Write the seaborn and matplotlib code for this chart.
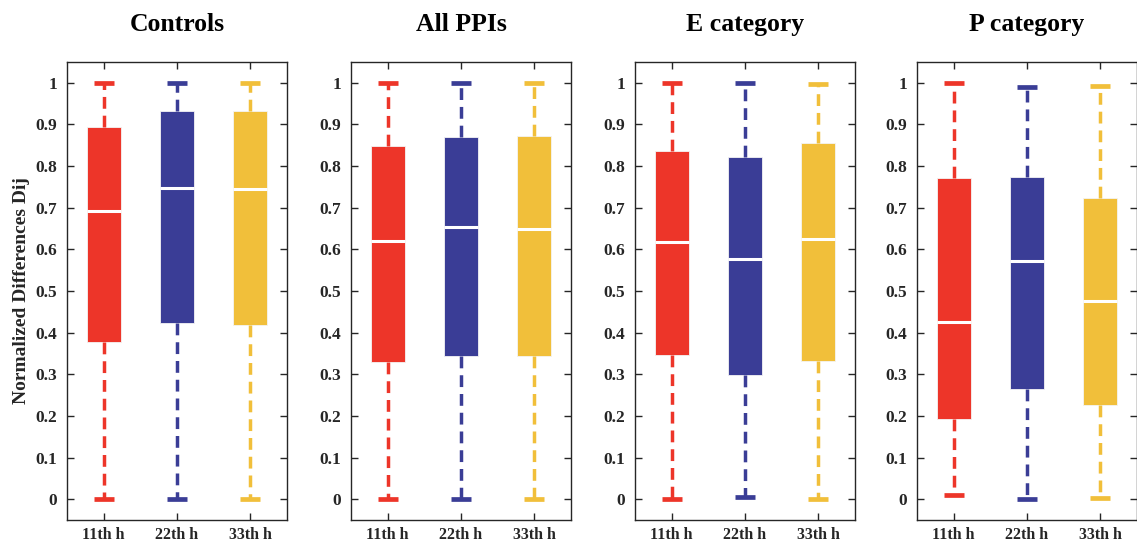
import pandas as pd
import matplotlib
matplotlib.use("Agg")
import matplotlib.pyplot as plt
import seaborn as sns

# five-number summaries per box: [min, q1, median, q3, max]
hours = ["11th h", "22th h", "33th h"]
panels = ["Controls", "All PPIs", "E category", "P category"]

controls = [[0.0, 0.378, 0.692, 0.894, 1.0],
            [0.0, 0.422, 0.748, 0.933, 1.0],
            [0.0, 0.419, 0.745, 0.932, 1.0]]
all_ppis = [[0.0, 0.330, 0.621, 0.849, 1.0],
            [0.0, 0.345, 0.653, 0.869, 1.0],
            [0.0, 0.343, 0.649, 0.872, 1.0]]
e_category = [[0.0, 0.346, 0.617, 0.836, 0.999],
              [0.005, 0.299, 0.578, 0.822, 0.999],
              [0.0, 0.331, 0.624, 0.856, 0.997]]
p_category = [[0.010, 0.192, 0.425, 0.772, 0.999],
              [0.0, 0.265, 0.572, 0.773, 0.990],
              [0.003, 0.226, 0.475, 0.724, 0.992]]

colors = ["#ED3529", "#3A3D96", "#F1BF3A"]

rows = []
for name, boxes in zip(panels, [controls, all_ppis, e_category, p_category]):
    for hour, vals in zip(hours, boxes):
        for v in vals:
            rows.append({"panel": name, "hour": hour, "value": v})
df = pd.DataFrame(rows)

sns.set_style("white")
plt.rcParams["font.family"] = ["Liberation Serif", "DejaVu Serif"]
plt.rcParams["font.weight"] = "bold"
ink = "#262626"

fig = plt.figure(figsize=(11.37, 5.42), dpi=100)
lefts = [67, 351, 635, 917]
for i, name in enumerate(panels):
    ax = fig.add_axes([lefts[i] / 1137, 22 / 542, 220 / 1137, 458 / 542])
    sub = df[df["panel"] == name]
    sns.boxplot(data=sub, x="hour", y="value", hue="hour", order=hours,
                hue_order=hours, palette=colors, width=0.46, whis=(0, 100),
                dodge=False, legend=False, ax=ax, linewidth=0, saturation=1,
                capwidths=0.27, showfliers=False,
                boxprops=dict(edgecolor="#f4f4f4", linewidth=0.6),
                medianprops=dict(color="white", linewidth=2.2))
    # colour whiskers and caps like their boxes
    lines = ax.lines
    for j, c in enumerate(colors):
        for ln in lines:
            xd = ln.get_xdata()
            if len(xd) and abs(sum(xd) / len(xd) - j) < 0.2 and ln.get_color() != "white":
                ln.set_color(c)
    for ln in lines:
        xd = ln.get_xdata()
        yd = ln.get_ydata()
        if len(xd) == 2 and xd[0] == xd[1]:
            ln.set_linestyle((0, (3.4, 2.0)))
            ln.set_linewidth(2.5)
            ln.set_dash_capstyle("butt")
        elif len(xd) == 2 and yd[0] == yd[1] and ln.get_color() != "white":
            ln.set_linewidth(3.4)
            ln.set_solid_capstyle("butt")
    ax.set_xlim(-0.5, 2.5)
    ax.set_ylim(-0.05, 1.05)
    ax.set_yticks([k / 10 for k in range(11)])
    ax.set_yticklabels(["0"] + [f"{k / 10:.1f}" for k in range(1, 10)] + ["1"])
    ax.tick_params(direction="in", length=5, width=1, color=ink, labelcolor=ink,
                   top=True, right=True, bottom=True, left=True)
    ax.tick_params(axis="y", labelsize=12.5, pad=7)
    ax.tick_params(axis="x", labelsize=11.5, pad=5)
    for lab in ax.get_xticklabels() + ax.get_yticklabels():
        lab.set_fontweight("bold")
    for sp in ax.spines.values():
        sp.set_color(ink)
        sp.set_linewidth(1)
    ax.set_xlabel("")
    ax.set_ylabel("Normalized Differences Dij" if i == 0 else "",
                  fontsize=14, fontweight="bold", color=ink, labelpad=4)
    ax.set_title(name, fontsize=18.5, fontweight="bold", color="black", pad=22)

fig.savefig("out.png", dpi=100)
